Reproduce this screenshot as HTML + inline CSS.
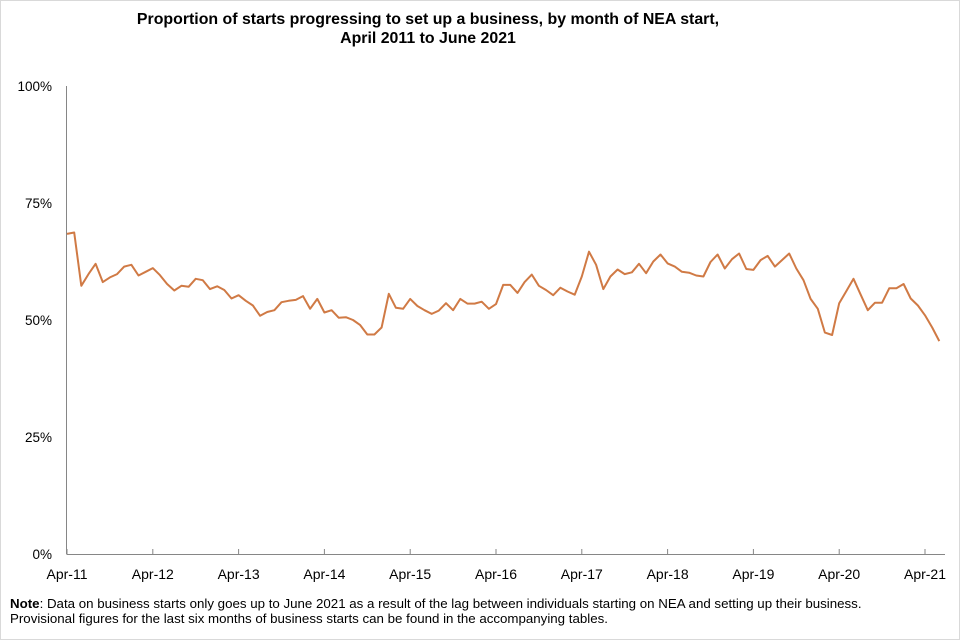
<!DOCTYPE html>
<html><head><meta charset="utf-8"><style>
body{margin:0;background:#fff}
#wrap{position:relative;width:958px;height:638px;border:1px solid #d9d9d9;background:#fff;overflow:hidden}
svg text{font-family:"Liberation Sans",Arial,sans-serif}
</style></head><body>
<div id="wrap">
<svg id="chart" width="958" height="638" viewBox="1 1 958 638">
<text x="428" y="24" text-anchor="middle" font-size="15.9" font-weight="bold">Proportion of starts progressing to set up a business, by month of NEA start,</text>
<text x="428" y="43" text-anchor="middle" font-size="15.9" font-weight="bold">April 2011 to June 2021</text>
<g id="yaxis"></g>
<g id="xaxis"></g>
<path id="series" fill="none" stroke="#d07a45" stroke-width="2" stroke-linejoin="round"></path>
<text x="10" y="608" font-size="13.3"><tspan font-weight="bold">Note</tspan>: Data on business starts only goes up to June 2021 as a result of the lag between individuals starting on NEA and setting up their business.</text>
<text x="10" y="623" font-size="13.3">Provisional figures for the last six months of business starts can be found in the accompanying tables.</text>
</svg>
</div>
<script>
const values = [68.4,68.7,57.3,59.8,62.0,58.1,59.1,59.8,61.4,61.8,59.5,60.3,61.1,59.6,57.7,56.3,57.3,57.1,58.8,58.5,56.6,57.2,56.4,54.6,55.3,54.1,53.1,50.9,51.7,52.1,53.8,54.1,54.3,55.1,52.4,54.5,51.6,52.1,50.5,50.6,50.0,48.9,46.9,46.9,48.4,55.6,52.6,52.4,54.5,53.0,52.1,51.3,52.0,53.6,52.1,54.5,53.5,53.5,53.9,52.4,53.4,57.5,57.5,55.8,58.1,59.7,57.3,56.4,55.3,56.9,56.1,55.4,59.3,64.6,61.8,56.6,59.3,60.8,59.8,60.2,62.0,60.0,62.5,64.0,62.1,61.4,60.3,60.1,59.5,59.3,62.4,64.0,61.0,63.0,64.2,60.9,60.7,62.8,63.7,61.4,62.8,64.2,61.0,58.5,54.5,52.4,47.3,46.8,53.6,56.2,58.8,55.4,52.1,53.7,53.7,56.8,56.8,57.7,54.6,53.1,51.0,48.4,45.5];
const xLabels = ["Apr-11","Apr-12","Apr-13","Apr-14","Apr-15","Apr-16","Apr-17","Apr-18","Apr-19","Apr-20","Apr-21"];
const yTicks = [0,25,50,75,100];
const yTickLabels = ["0%","25%","50%","75%","100%"];

const NS="http://www.w3.org/2000/svg";
const x0=67, step=7.15, yBase=554, yTop=86;
function xPos(i){return x0+i*step;}
function yPos(v){return yBase-(v/100)*(yBase-yTop);}
function mk(tag,attrs,parent){const e=document.createElementNS(NS,tag);for(const k in attrs)e.setAttribute(k,attrs[k]);parent.appendChild(e);return e;}
const ya=document.getElementById('yaxis'), xa=document.getElementById('xaxis');
const yl=mk('line',{x1:x0-0.5,y1:yTop,x2:x0-0.5,y2:yBase,stroke:'#868686','stroke-width':1},ya);


yTicks.forEach((t,k)=>{
  const tx=mk('text',{x:52,y:yPos(t)+5,'text-anchor':'end','font-size':13.5},ya);
  tx.textContent=yTickLabels[k];
  
  
});
const xl=mk('line',{x1:x0-0.5,y1:yBase+0.5,x2:945,y2:yBase+0.5,stroke:'#868686','stroke-width':1},xa);


xLabels.forEach((l,k)=>{
  const x=xPos(k*12);
  const tk=mk('line',{x1:x,y1:yBase-5,x2:x,y2:yBase,stroke:'#868686','stroke-width':1},xa);
  
  
  const tx=mk('text',{x:x,y:579,'text-anchor':'middle','font-size':14},xa);
  tx.textContent=l;
  
  
});
document.getElementById('series').setAttribute('d',values.map((v,i)=>(i?'L':'M')+xPos(i).toFixed(1)+' '+yPos(v).toFixed(1)).join(' '));
</script>
</body></html>
